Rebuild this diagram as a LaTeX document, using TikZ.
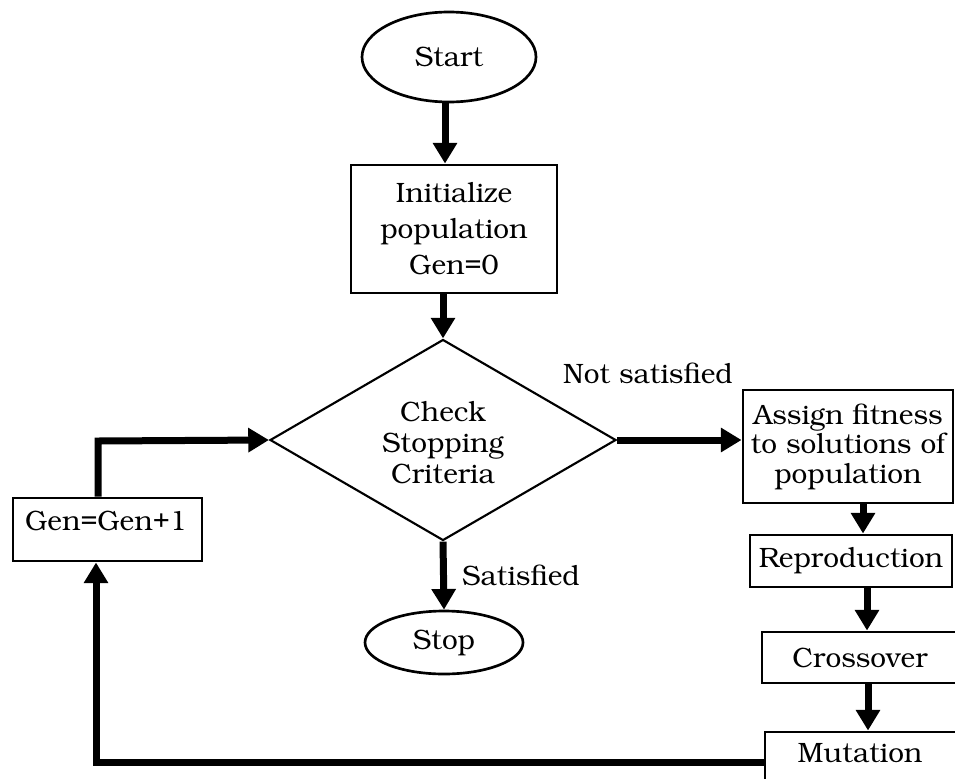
\documentclass[tikz,border=0pt]{standalone}
\usepackage[T1]{fontenc}
\usepackage{bookman}
\usetikzlibrary{shapes.geometric,arrows.meta,calc}
\tikzset{
  txt/.style={font=\fontsize{21}{26}\selectfont, align=center, inner sep=0pt},
  boxnode/.style={draw, line width=2.2pt, rectangle, inner sep=0pt, txt},
  ovalnode/.style={draw, line width=2pt, ellipse, inner sep=0pt, txt},
  dmd/.style={draw, line width=1.6pt, diamond, inner sep=0pt},
  arr/.style={line width=5.25pt, -{Triangle[length=15.5pt,width=17.5pt]}},
}
\begin{document}
\begin{tikzpicture}[x=0.75pt,y=-0.75pt]
\useasboundingbox (0,0) rectangle (955,778);
\clip (0,0) rectangle (955,778);
\fill[white] (0,0) rectangle (955,778);

% nodes
\node[ovalnode, minimum width=174*0.75pt, minimum height=90*0.75pt] (start) at (449,57) {Start};
\node[boxnode, minimum width=206*0.75pt, minimum height=128*0.75pt,
      font=\fontsize{21}{27}\selectfont] (init) at (454,229) {Initialize\\population\\Gen=0};
\node[dmd, minimum width=346*0.75pt, minimum height=201*0.75pt] (chk) at (443,440) {};
\node[txt, font=\fontsize{21}{23.5}\selectfont] (chktxt) at (443,443) {Check\\Stopping\\Criteria};
\node[ovalnode, minimum width=158*0.75pt, minimum height=63*0.75pt] (stop) at (444,642.5) {Stop};
\node[boxnode, minimum width=210*0.75pt, minimum height=113*0.75pt,
      font=\fontsize{21}{22}\selectfont] (assign) at (848,446.5) {Assign fitness\\to solutions of\\population};
\node[boxnode, minimum width=202*0.75pt, minimum height=52*0.75pt] (repro) at (851,561) {Reproduction};
\node[boxnode, minimum width=196*0.75pt, minimum height=51*0.75pt] (cross) at (860,657.5) {Crossover};
\node[boxnode, minimum width=195*0.75pt, minimum height=70*0.75pt] (mut) at (862.5,767) {};
\node[txt] (muttxt) at (860,753) {Mutation};
\node[boxnode, minimum width=189*0.75pt, minimum height=63*0.75pt] (gen) at (107.5,529.5) {};
\node[txt] (gentxt) at (106,521) {Gen=Gen+1};

% labels
\node[txt] (notsat) at (648,373) {Not satisfied};
\node[txt] (sat) at (521,575) {Satisfied};

% helper coordinates
\coordinate (x1) at (863,0);
\coordinate (x2) at (867,0);
\coordinate (x3) at (868,0);
\coordinate (fb) at (96,762);
\coordinate (gup) at (98,441);

% connectors
\draw[arr] (start.south -| 445,0) -- (init.north -| 445,0);
\draw[arr] (chk.north |- init.south) -- (chk.north);
\draw[arr] (chk.south) -- (stop.north);
\draw[arr] (chk.east) -- (chk.east -| assign.west);
\draw[arr] (assign.south -| x1) -- (repro.north -| x1);
\draw[arr] (repro.south -| x2) -- (cross.north -| x2);
\draw[arr] (cross.south -| x3) -- (mut.north -| x3);
\draw[arr] (fb -| mut.west) -- (fb) -- (fb |- gen.south);
\draw[arr] (gen.north -| gup) -- (gup) -- (chk.west);
\end{tikzpicture}
\end{document}
